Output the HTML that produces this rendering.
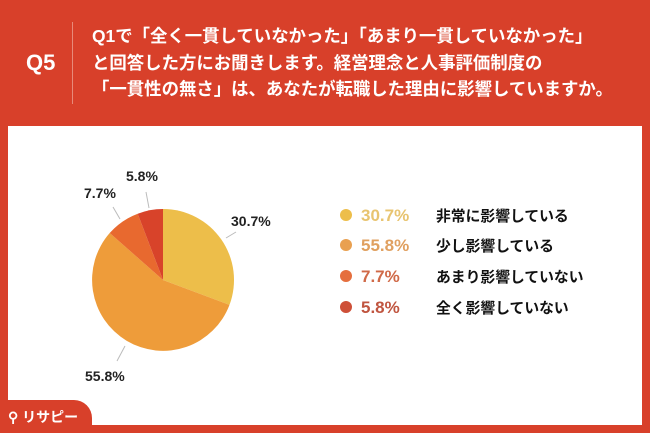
<!DOCTYPE html>
<html><head><meta charset="utf-8"><style>
body{margin:0;width:650px;height:433px;overflow:hidden;background:#D8402A;font-family:"Liberation Sans","Noto Sans CJK JP",sans-serif;position:relative}
.t{position:absolute;color:#fff;font-weight:bold}
</style></head><body>
<div class="t" style="left:26px;top:50px;font-size:22px">Q5</div>
<div style="position:absolute;left:72px;top:22px;width:1px;height:82px;background:#e88a7a"></div>
<div class="t" style="left:92px;top:23px;font-size:17.4px;line-height:26.5px;white-space:nowrap">Q1で「全く一貫していなかった」「あまり一貫していなかった」<br>と回答した方にお聞きします。経営理念と人事評価制度の<br>「一貫性の無さ」は、あなたが転職した理由に影響していますか。</div>
<div style="position:absolute;left:8px;top:126px;width:634px;height:299px;background:#fff"></div>
<div style="position:absolute;left:0;top:400px;width:92px;height:33px;background:#D8402A;border-top-right-radius:18px"></div>
<div class="t" style="left:8px;top:407px;font-size:14px">⚲ リサピー</div>
<svg style="position:absolute;left:0;top:0" width="650" height="433">
<path d="M163,280 L163,209 A71,71 0 0 1 229.5,304.9Z" fill="#EDBE4A"/>
<path d="M163,280 L229.5,304.9 A71,71 0 1 1 109.7,233Z" fill="#EE9C3A"/>
<path d="M163,280 L109.7,233 A71,71 0 0 1 137.7,213.7Z" fill="#E8692F"/>
<path d="M163,280 L137.7,213.7 A71,71 0 0 1 163,209Z" fill="#D8432A"/>
<g stroke="#bbb" stroke-width="1"><line x1="226" y1="238" x2="236" y2="232"/><line x1="120" y1="219" x2="113" y2="207"/><line x1="149" y1="208" x2="146" y2="192"/><line x1="125" y1="346" x2="117" y2="361"/></g>
<g font-family="Liberation Sans,sans-serif" font-size="14" fill="#222" font-weight="bold">
<text x="231" y="226">30.7%</text><text x="126" y="181">5.8%</text><text x="84" y="198">7.7%</text><text x="85" y="381">55.8%</text></g>
<g font-size="17" font-weight="bold"><circle cx="346" cy="215" r="6" fill="#EDBE4A"/><circle cx="346" cy="245" r="6" fill="#E9A050"/><circle cx="346" cy="276" r="6" fill="#E56F3E"/><circle cx="346" cy="307" r="6" fill="#CE5038"/>
<text x="361" y="221" fill="#E8C470">30.7%</text><text x="361" y="251" fill="#E0A060">55.8%</text><text x="361" y="282" fill="#D06A48">7.7%</text><text x="361" y="313" fill="#C05540">5.8%</text></g>
<g font-family="Liberation Sans,Noto Sans CJK JP,sans-serif" font-size="14.8" font-weight="bold" fill="#111">
<text x="436" y="221">非常に影響している</text><text x="436" y="251">少し影響している</text><text x="436" y="282">あまり影響していない</text><text x="436" y="313">全く影響していない</text></g>
</svg>
</body></html>
